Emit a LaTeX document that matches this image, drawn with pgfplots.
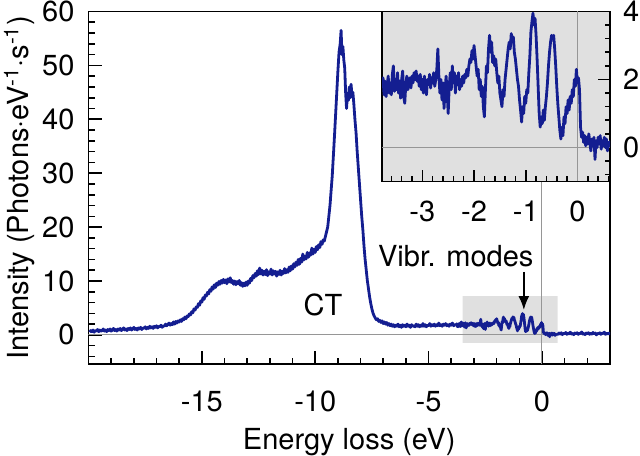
\documentclass[border=0pt]{standalone}
\usepackage{fontspec}
\setmainfont{TeX Gyre Heros}
\usepackage{pgfplots}
\usepackage{pgfplotstable}
\pgfplotsset{compat=1.18}
\usetikzlibrary{arrows.meta}

\definecolor{specblue}{RGB}{20,30,145}
\definecolor{boxgray}{RGB}{224,224,224}
\definecolor{zerogray}{RGB}{150,150,150}

% main spectrum, left of the vibrational region
\pgfplotstableread{
x y
-19.95 0.5
-19.90 0.8
-19.85 0.6
-19.80 0.9
-19.75 0.5
-19.70 0.8
-19.65 0.7
-19.60 1.0
-19.55 0.6
-19.50 0.9
-19.45 0.7
-19.40 0.8
-19.35 1.1
-19.30 0.7
-19.25 0.9
-19.20 0.6
-19.15 1.0
-19.10 0.8
-19.05 1.1
-19.00 0.7
-18.95 0.9
-18.90 1.2
-18.85 0.8
-18.80 1.0
-18.75 0.7
-18.70 1.1
-18.65 0.9
-18.60 1.2
-18.55 0.8
-18.50 1.0
-18.45 1.3
-18.40 0.9
-18.35 1.1
-18.30 0.8
-18.25 1.2
-18.20 1.0
-18.15 1.3
-18.10 0.9
-18.05 1.1
-18.00 1.4
-17.95 1.0
-17.90 1.2
-17.85 0.9
-17.80 1.3
-17.75 1.1
-17.70 1.4
-17.65 1.0
-17.60 1.3
-17.55 1.2
-17.50 1.5
-17.45 1.1
-17.40 1.4
-17.35 1.2
-17.30 1.6
-17.25 1.3
-17.20 1.5
-17.15 1.2
-17.10 1.6
-17.05 1.4
-17.00 1.7
-16.95 1.3
-16.90 1.6
-16.85 1.5
-16.80 1.8
-16.75 1.4
-16.70 1.7
-16.65 1.6
-16.60 2.0
-16.55 1.7
-16.50 1.9
-16.45 2.2
-16.40 1.8
-16.35 2.1
-16.30 1.9
-16.25 2.4
-16.20 2.0
-16.15 2.5
-16.10 2.2
-16.05 2.6
-16.00 2.4
-15.95 2.8
-15.90 2.5
-15.85 3.0
-15.80 2.8
-15.75 3.3
-15.70 3.0
-15.65 3.5
-15.60 3.4
-15.55 3.9
-15.50 3.7
-15.45 4.3
-15.40 4.1
-15.35 4.8
-15.30 4.6
-15.25 5.2
-15.20 5.1
-15.15 5.8
-15.10 5.5
-15.05 6.3
-15.00 6.1
-14.95 6.9
-14.90 6.6
-14.85 7.4
-14.80 7.2
-14.75 7.9
-14.70 7.6
-14.65 8.4
-14.60 8.1
-14.55 8.9
-14.50 8.5
-14.45 9.3
-14.40 8.8
-14.35 9.6
-14.30 9.2
-14.25 9.9
-14.20 9.4
-14.15 10.1
-14.10 9.6
-14.05 10.3
-14.00 9.7
-13.95 10.2
-13.90 9.5
-13.85 10.4
-13.80 9.8
-13.75 10.6
-13.70 9.7
-13.65 10.1
-13.60 9.4
-13.55 10.0
-13.50 9.3
-13.45 9.9
-13.40 9.5
-13.35 10.1
-13.30 9.2
-13.25 9.7
-13.20 9.0
-13.15 9.6
-13.10 9.1
-13.05 9.8
-13.00 9.2
-12.95 10.0
-12.90 9.6
-12.85 10.5
-12.80 10.1
-12.75 11.0
-12.70 10.6
-12.65 11.4
-12.60 10.9
-12.55 11.9
-12.50 11.2
-12.45 12.4
-12.40 11.3
-12.35 12.0
-12.30 11.1
-12.25 11.8
-12.20 11.2
-12.15 12.1
-12.10 11.0
-12.05 11.7
-12.00 11.3
-11.95 12.2
-11.90 11.1
-11.85 11.9
-11.80 11.3
-11.75 11.8
-11.70 10.9
-11.65 11.7
-11.60 11.2
-11.55 12.0
-11.50 11.1
-11.45 11.8
-11.40 11.4
-11.35 12.3
-11.30 11.5
-11.25 12.1
-11.20 11.6
-11.15 12.6
-11.10 11.9
-11.05 12.8
-11.00 12.2
-10.95 13.2
-10.90 12.6
-10.85 13.5
-10.80 12.9
-10.75 14.0
-10.70 13.1
-10.65 14.2
-10.60 13.5
-10.55 15.0
-10.50 13.9
-10.45 14.6
-10.40 14.1
-10.35 15.3
-10.30 14.4
-10.25 15.2
-10.20 14.8
-10.15 16.1
-10.10 15.0
-10.05 15.9
-10.00 15.3
-9.95 16.4
-9.90 15.8
-9.85 16.7
-9.80 16.2
-9.75 17.3
-9.70 16.8
-9.65 17.6
-9.60 17.4
-9.55 18.3
-9.45 20.0
-9.35 24.0
-9.25 29.5
-9.15 37.0
-9.05 45.0
-9.00 49.0
-8.95 52.5
-8.90 54.0
-8.86 56.5
-8.82 52.0
-8.78 53.5
-8.74 51.0
-8.70 49.5
-8.66 45.0
-8.62 42.0
-8.58 44.5
-8.54 43.5
-8.50 46.0
-8.46 44.0
-8.42 46.5
-8.38 44.5
-8.34 45.0
-8.30 43.0
-8.25 40.0
-8.20 37.5
-8.15 34.0
-8.10 31.0
-8.05 28.0
-8.00 25.0
-7.95 22.0
-7.90 19.5
-7.85 16.5
-7.80 14.0
-7.75 12.0
-7.70 10.0
-7.65 8.5
-7.60 7.0
-7.55 5.8
-7.50 4.8
-7.45 4.0
-7.40 3.5
-7.35 3.1
-7.30 2.8
-7.25 3.0
-7.20 2.5
-7.15 2.7
-7.10 2.3
-7.05 2.6
-7.00 2.1
-6.95 2.4
-6.90 2.0
-6.85 2.3
-6.80 1.8
-6.75 2.1
-6.70 1.7
-6.65 2.0
-6.60 1.6
-6.55 1.9
-6.50 1.5
-6.45 1.8
-6.40 1.6
-6.35 2.0
-6.30 1.5
-6.25 1.8
-6.20 1.4
-6.15 1.9
-6.10 1.6
-6.05 1.8
-6.00 1.5
-5.95 2.0
-5.90 1.6
-5.85 1.8
-5.80 1.4
-5.75 1.9
-5.70 1.6
-5.65 1.7
-5.60 1.5
-5.55 2.0
-5.50 1.6
-5.45 1.9
-5.40 1.5
-5.35 1.8
-5.30 1.6
-5.25 2.1
-5.20 1.6
-5.15 1.9
-5.10 1.5
-5.05 1.8
-5.00 1.7
-4.95 2.1
-4.90 1.6
-4.85 1.9
-4.80 1.7
-4.75 2.0
-4.70 1.6
-4.65 1.9
-4.60 1.7
-4.55 2.2
-4.50 1.7
-4.45 1.9
-4.40 1.6
-4.35 2.0
-4.30 1.8
-4.25 2.1
-4.20 1.7
-4.15 1.9
-4.10 1.6
-4.05 2.0
-4.00 1.8
-3.95 2.2
-3.90 1.7
-3.85 1.9
-3.80 1.8
}\mainleft

% vibrational region (also shown in the inset)
\pgfplotstableread{
x y
-3.78 1.75
-3.76 2.05
-3.74 1.55
-3.72 1.95
-3.70 1.50
-3.68 1.85
-3.66 2.10
-3.64 1.60
-3.62 1.90
-3.60 1.55
-3.58 2.15
-3.56 2.40
-3.54 1.65
-3.52 2.00
-3.50 1.70
-3.48 2.20
-3.46 1.60
-3.44 1.95
-3.42 1.45
-3.40 2.00
-3.38 2.25
-3.36 1.50
-3.34 1.30
-3.32 1.85
-3.30 2.10
-3.28 1.70
-3.26 1.95
-3.24 2.05
-3.22 1.75
-3.20 2.10
-3.18 1.90
-3.16 2.20
-3.14 2.00
-3.12 2.25
-3.10 1.95
-3.08 2.10
-3.06 1.80
-3.04 2.15
-3.02 1.70
-3.00 2.00
-2.98 1.60
-2.96 2.10
-2.94 1.80
-2.92 1.55
-2.90 2.00
-2.88 1.85
-2.86 2.15
-2.84 1.75
-2.82 2.05
-2.80 1.90
-2.78 2.20
-2.76 1.80
-2.74 2.00
-2.72 2.30
-2.70 2.90
-2.68 2.10
-2.66 1.60
-2.64 2.00
-2.62 1.40
-2.60 1.90
-2.58 1.15
-2.56 1.70
-2.54 2.10
-2.52 1.60
-2.50 1.00
-2.48 1.80
-2.46 2.20
-2.44 1.70
-2.42 2.40
-2.40 1.90
-2.38 2.20
-2.36 1.60
-2.34 2.10
-2.32 1.85
-2.30 2.20
-2.28 1.70
-2.26 2.00
-2.24 1.80
-2.22 2.10
-2.20 1.90
-2.18 2.15
-2.16 2.05
-2.14 2.30
-2.12 2.10
-2.10 2.40
-2.08 2.60
-2.06 2.50
-2.04 2.85
-2.02 2.60
-2.00 3.00
-1.98 2.70
-1.96 2.40
-1.94 2.10
-1.92 2.30
-1.90 1.70
-1.88 2.00
-1.86 1.50
-1.84 1.80
-1.82 1.20
-1.80 0.90
-1.78 1.70
-1.76 2.40
-1.74 2.20
-1.72 2.90
-1.70 3.30
-1.68 2.80
-1.66 3.10
-1.64 2.50
-1.62 2.70
-1.60 2.40
-1.58 2.60
-1.56 2.20
-1.54 1.90
-1.52 2.10
-1.50 1.60
-1.48 1.40
-1.46 1.20
-1.44 1.70
-1.42 1.50
-1.40 2.00
-1.38 2.30
-1.36 2.60
-1.34 2.90
-1.32 3.10
-1.30 2.90
-1.28 3.35
-1.26 3.10
-1.24 3.25
-1.22 2.80
-1.20 2.60
-1.18 2.30
-1.16 2.00
-1.14 1.80
-1.12 1.40
-1.10 1.10
-1.08 0.75
-1.06 1.20
-1.04 1.00
-1.02 1.50
-1.00 1.30
-0.98 1.70
-0.96 1.60
-0.94 2.20
-0.92 2.70
-0.90 3.40
-0.88 3.70
-0.86 3.95
-0.84 3.60
-0.82 3.80
-0.80 3.30
-0.78 2.60
-0.76 1.80
-0.74 1.00
-0.72 0.60
-0.70 0.90
-0.68 0.70
-0.66 1.10
-0.64 0.80
-0.62 1.20
-0.60 1.50
-0.58 1.90
-0.56 2.40
-0.54 2.80
-0.52 3.10
-0.50 3.30
-0.48 3.20
-0.46 3.30
-0.44 2.90
-0.42 2.40
-0.40 1.80
-0.38 1.30
-0.36 0.90
-0.34 0.50
-0.32 0.25
-0.30 0.60
-0.28 0.35
-0.26 0.90
-0.24 0.70
-0.22 1.20
-0.20 1.00
-0.18 1.40
-0.16 1.10
-0.14 1.50
-0.12 1.30
-0.10 1.70
-0.08 1.50
-0.06 2.00
-0.04 1.80
-0.02 2.30
0.00 1.90
0.02 2.05
0.04 1.70
0.06 0.60
0.08 0.30
0.10 0.45
0.12 0.15
0.14 0.35
0.16 0.05
0.18 0.30
0.20 0.10
0.22 0.40
0.24 0.15
0.26 -0.10
0.28 0.25
0.30 0.05
0.32 0.30
0.34 -0.35
0.36 0.20
0.38 0.00
0.40 0.30
0.42 0.10
0.44 0.35
0.46 -0.05
0.48 0.20
0.50 0.05
0.52 0.30
0.54 0.00
0.56 0.25
0.58 -0.10
0.60 0.15
0.62 0.05
0.64 0.20
}\vibdata

% main spectrum, right of the vibrational region
\pgfplotstableread{
x y
0.66 0.30
0.70 0.10
0.75 0.35
0.80 0.15
0.85 0.40
0.90 0.05
0.95 0.30
1.00 0.20
1.05 0.45
1.10 0.10
1.15 0.35
1.20 0.20
1.25 0.50
1.30 0.15
1.35 0.30
1.40 0.05
1.45 0.35
1.50 0.20
1.55 0.40
1.60 0.10
1.65 0.30
1.70 0.25
1.75 0.55
1.80 0.15
1.85 0.30
1.90 0.05
1.95 0.35
2.00 0.20
2.05 0.40
2.10 0.10
2.15 0.30
2.20 0.15
2.25 0.45
2.30 0.20
2.35 0.35
2.40 0.00
2.45 0.30
2.50 0.20
2.55 0.40
2.60 0.10
2.65 0.35
2.70 0.25
2.75 0.50
2.80 0.10
2.85 0.30
2.90 0.15
2.95 0.35
3.00 0.20
3.05 0.30
}\mainright

\pgfplotsset{
  spec/.style={specblue, line width=1.4pt, line join=round, no marks},
  zero/.style={zerogray, line width=0.5pt, no marks},
  myaxis/.style={
    scale only axis,
    axis line style={line width=0.9pt},
    tick style={line width=0.8pt, black},
    tick align=inside,
    ticklabel style={font=\fontsize{14.5}{17}\selectfont},
    label style={font=\fontsize{14.5}{17}\selectfont},
    /pgf/number format/assume math mode=true,
  },
}

\begin{document}
\begin{tikzpicture}
\path[use as bounding box] (-44.25pt,-45.5pt) rectangle (275.75pt,182pt);

\begin{axis}[
    myaxis,
    at={(0pt,0pt)}, anchor=south west,
    width=260.75pt, height=176.25pt,
    xmin=-20, xmax=3,
    ymin=-5.4, ymax=60,
    xtick={-15,-10,-5,0},
    minor xtick={-20,-19,...,3},
    ytick={0,10,...,60},
    minor ytick={-4,-2,...,60},
    xtick pos=left, ytick pos=left,
    major tick length=6.5pt, minor tick length=3pt,
    xticklabel style={yshift=-10pt},
    yticklabel style={xshift=-3.5pt},
    xlabel={Energy loss (eV)},
    xlabel style={at={(axis description cs:0.5,-0.222)}, anchor=center},
    ylabel={Intensity (Photons·eV\textsuperscript{-1}·s\textsuperscript{-1})},
    ylabel style={at={(axis description cs:-0.1323,0.5)}, anchor=center},
]
\addplot[fill=boxgray, draw=none] coordinates {(-3.5,-1.5) (0.69,-1.5) (0.69,7.2) (-3.5,7.2) (-3.5,-1.5)};
\addplot[zero] coordinates {(-20,0) (3,0)};
\addplot[zero] coordinates {(0,-5.4) (0,60)};
\addplot[spec] table {\mainleft};
\addplot[spec] table {\vibdata};
\addplot[spec] table {\mainright};
\addplot[black, line width=1.1pt, -{Latex[length=7pt,width=5.5pt]}] coordinates {(-0.8,11.7) (-0.8,4.6)};
\node[font=\fontsize{14.5}{17}\selectfont] at (axis cs:-3.8,14.7) {Vibr. modes};
\node[font=\fontsize{14.5}{17}\selectfont] at (axis cs:-9.66,5.5) {CT};
\end{axis}

\begin{axis}[
    myaxis,
    at={(146.75pt,176.25pt)}, anchor=north west,
    width=114pt, height=85pt,
    xmin=-3.78, xmax=0.63,
    ymin=-1, ymax=4,
    axis background/.style={fill=boxgray},
    xtick={-3,-2,-1,0},
    minor xtick={-3.8,-3.6,...,0.6},
    ytick={0,2,4},
    minor ytick={-0.8,-0.4,...,4},
    xtick pos=left, ytick pos=right, yticklabel pos=right,
    major tick length=5.8pt, minor tick length=2.5pt,
    xticklabel style={yshift=-6pt},
    yticklabel style={xshift=3pt},
]
\addplot[zero] coordinates {(-3.78,0) (0.63,0)};
\addplot[zero] coordinates {(0,-1) (0,4)};
\addplot[spec] table {\vibdata};
\end{axis}
\end{tikzpicture}
\end{document}
